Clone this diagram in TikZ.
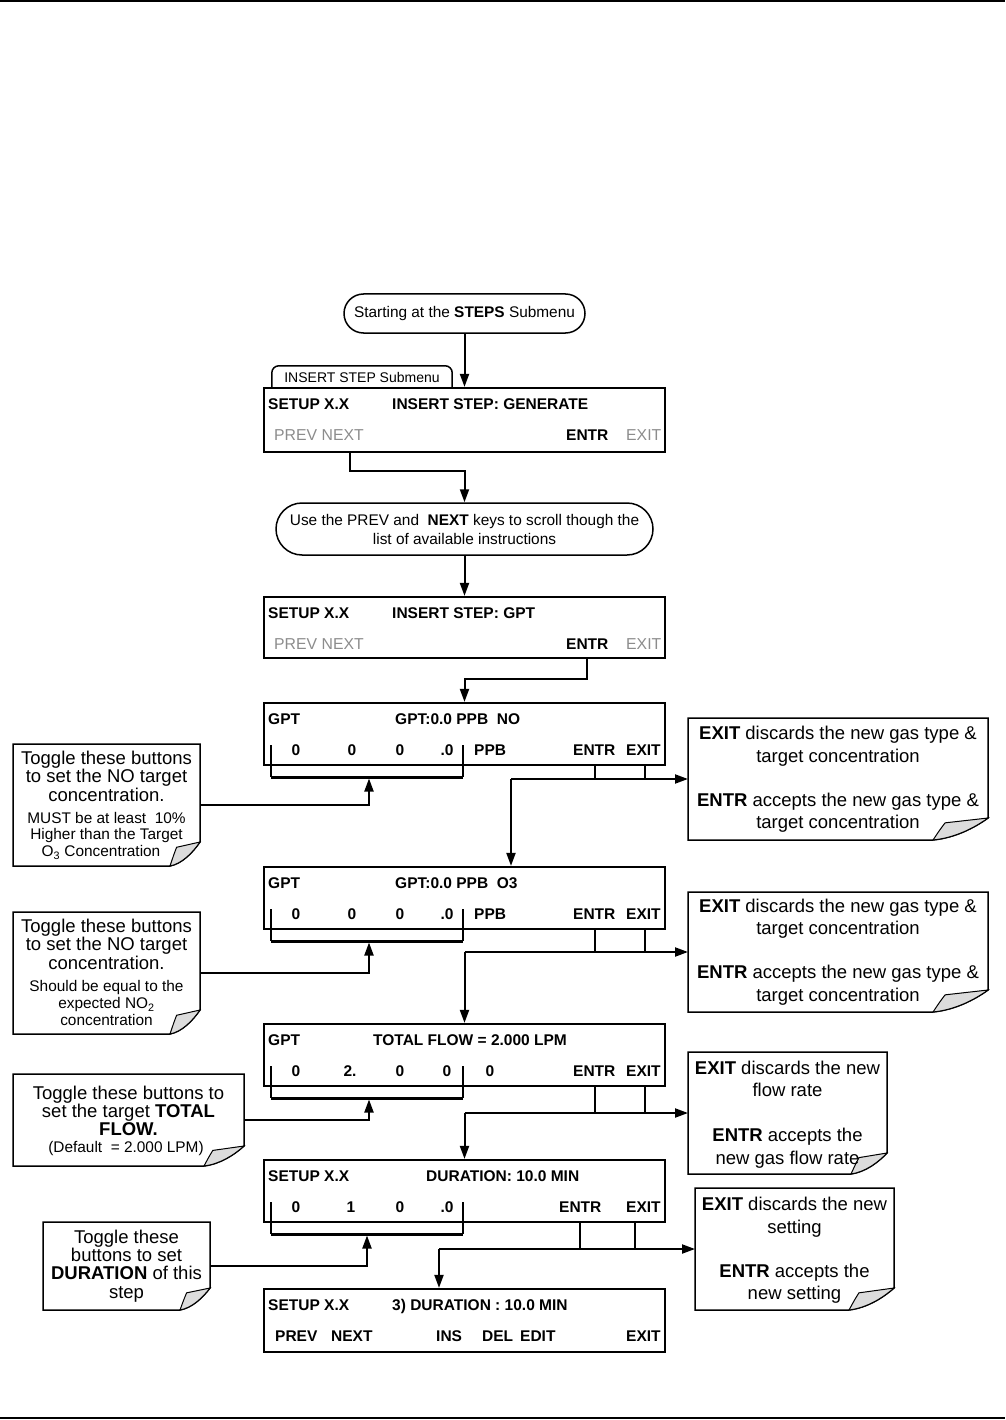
\documentclass[tikz,border=0pt]{standalone}
\usepackage{fontspec}
\setmainfont{Liberation Sans}
\usetikzlibrary{arrows.meta,shapes.misc}
\newcommand\fsz[1]{\fontsize{#1}{#1}\selectfont}
\definecolor{keygray}{HTML}{8C8C8C}
\definecolor{foldgray}{HTML}{DCDCDC}
% #1 node, #2 fold width, #3 fold height
\newcommand\noteear[3]{%
  \draw[line width=1.5pt,fill=white] (#1.north west) -- (#1.north east) -- ([yshift=#3pt]#1.south east)
    .. controls ([xshift=-0.25*#2pt,yshift=0.55*#3pt]#1.south east) and ([xshift=-0.6*#2pt,yshift=0.1*#3pt]#1.south east) .. ([xshift=-#2pt]#1.south east)
    -- (#1.south west) -- cycle;
  \filldraw[line width=1pt,fill=foldgray] ([yshift=#3pt]#1.south east)
    .. controls ([xshift=-0.25*#2pt,yshift=0.55*#3pt]#1.south east) and ([xshift=-0.6*#2pt,yshift=0.1*#3pt]#1.south east) .. ([xshift=-#2pt]#1.south east)
    .. controls ([xshift=-0.88*#2pt,yshift=0.45*#3pt]#1.south east) .. ([xshift=-0.78*#2pt,yshift=0.78*#3pt]#1.south east) -- cycle;}
\begin{document}
\begin{tikzpicture}[x=1pt,y=-1pt,
  disp/.style={draw,line width=2.2pt,inner sep=0,minimum width=401pt},
  dt/.style={anchor=base west,inner sep=0,font=\fsz{15.5}\bfseries},
  dg/.style={anchor=base west,inner sep=0,font=\fsz{15.8},text=keygray},
  dd/.style={anchor=base,inner sep=0,font=\fsz{15.5}\bfseries},
  conn/.style={line width=2pt},
  arr/.style={-{Triangle[length=13pt,width=9pt]}},
  tk/.style={line width=1.2pt},
  brv/.style={line width=1.8pt},
  brh/.style={line width=3pt},
  pill/.style={rounded rectangle,draw,line width=1.5pt,inner sep=0},
  notebox/.style={inner sep=0,outer sep=0},
  nl/.style={anchor=base,inner sep=0,font=\fsz{18.5}},
  ns/.style={anchor=base,inner sep=0,font=\fsz{15.4}},
]
\useasboundingbox (0,0) rectangle (1005,1420);
% page rules
\draw[line width=2pt] (0,1) coordinate (tl) -- (1005,1) coordinate (tr);
\draw[line width=2pt] (0,1418) coordinate (bl) -- (1005,1418) coordinate (brr);

% start
\node[pill,minimum width=241pt,minimum height=39pt,font=\fsz{15.4}] (start) at (464.5,313.5) {Starting at the \textbf{STEPS} Submenu};

% tab
\node[inner sep=0,minimum width=180pt,minimum height=22pt,font=\fsz{14}] (tab) at (362,377) {INSERT STEP Submenu};
\draw[line width=1.5pt,rounded corners=7pt] (tab.south west) -- (tab.north west) -- (tab.north east) -- (tab.south east);

% box 1
\node[disp,minimum height=64pt] (b1) at (464.5,420) {};
\node[dt] (b1a) at (268,409) {SETUP X.X};
\node[dt] (b1b) at (392,409) {INSERT STEP: GENERATE};
\node[dg] (b1c) at (274,440) {PREV NEXT};
\node[dt] (entr1) at (566,440) {ENTR};
\node[dg] (exit1) at (626,440) {EXIT};
\coordinate (nx1) at (350,440);

% scroll pill
\node[pill,minimum width=377pt,minimum height=52pt,align=center,font=\fontsize{15.4}{19}\selectfont] (scroll) at (464.5,529) {Use the PREV and \ \textbf{NEXT} keys to scroll though the\\list of available instructions};
\draw[conn,arr] (start.south) -- (start.south |- b1.north);
\draw[conn,arr] (nx1 |- b1.south) -- ++(0,18) -| (scroll.north);

% box 2
\node[disp,minimum height=61pt] (b2) at (464.5,627.5) {};
\node[dt] (b2a) at (268,618) {SETUP X.X};
\node[dt] (b2b) at (392,618) {INSERT STEP: GPT};
\node[dg] (b2c) at (274,649) {PREV NEXT};
\node[dt] (entr2) at (566,649) {ENTR};
\node[dg] (exit2) at (626,649) {EXIT};
\draw[conn,arr] (scroll.south) -- (scroll.south |- b2.north);

% box 3
\node[disp,minimum height=62pt] (b3) at (464.5,734) {};
\node[dt] (b3a) at (268,724) {GPT};
\node[dt] (b3b) at (395,724) {GPT:0.0 PPB \ NO};
\node[dd] (b3d1) at (296,755) {0};
\node[dd] (b3d2) at (352,755) {0};
\node[dd] (b3d3) at (400,755) {0};
\node[dd] (b3d4) at (447,755) {.0};
\node[dt] (b3u) at (474,755) {PPB};
\node[dt] (entr3) at (573,755) {ENTR};
\node[dt] (exit3) at (626,755) {EXIT};
\draw[conn,arr] (entr2.base |- b2.south) -- ++(0,20) -| (b3.north);

% box 4
\node[disp,minimum height=62pt] (b4) at (464.5,898) {};
\node[dt] (b4a) at (268,888) {GPT};
\node[dt] (b4b) at (395,888) {GPT:0.0 PPB \ O3};
\node[dd] (b4d1) at (296,919) {0};
\node[dd] (b4d2) at (352,919) {0};
\node[dd] (b4d3) at (400,919) {0};
\node[dd] (b4d4) at (447,919) {.0};
\node[dt] (b4u) at (474,919) {PPB};
\node[dt] (entr4) at (573,919) {ENTR};
\node[dt] (exit4) at (626,919) {EXIT};

% box 5
\node[disp,minimum height=62pt] (b5) at (464.5,1055) {};
\node[dt] (b5a) at (268,1045) {GPT};
\node[dt] (b5b) at (373,1045) {TOTAL FLOW = 2.000 LPM};
\node[dd] (b5d1) at (296,1076) {0};
\node[dd] (b5d2) at (350,1076) {2.};
\node[dd] (b5d3) at (400,1076) {0};
\node[dd] (b5d4) at (447,1076) {0};
\node[dd] (b5d5) at (490,1076) {0};
\node[dt] (entr5) at (573,1076) {ENTR};
\node[dt] (exit5) at (626,1076) {EXIT};

% box 6
\node[disp,minimum height=62pt] (b6) at (464.5,1191) {};
\node[dt] (b6a) at (268,1181) {SETUP X.X};
\node[dt] (b6b) at (426,1181) {DURATION: 10.0 MIN};
\node[dd] (b6d1) at (296,1212) {0};
\node[dd] (b6d2) at (351,1212) {1};
\node[dd] (b6d3) at (400,1212) {0};
\node[dd] (b6d4) at (447,1212) {.0};
\node[dt] (entr6) at (559,1212) {ENTR};
\node[dt] (exit6) at (626,1212) {EXIT};

% box 7
\node[disp,minimum height=63pt] (b7) at (464.5,1320.5) {};
\node[dt] (b7a) at (268,1310) {SETUP X.X};
\node[dt] (b7b) at (392,1310) {3) DURATION : 10.0 MIN};
\node[dt] (b7c) at (275,1341) {PREV};
\node[dt] (b7d) at (331,1341) {NEXT};
\node[dt] (b7e) at (436,1341) {INS};
\node[dt] (b7f) at (482,1341) {DEL};
\node[dt] (b7g) at (520,1341) {EDIT};
\node[dt] (b7h) at (626,1341) {EXIT};

% ---------- left notes ----------
\node[notebox,minimum width=187pt,minimum height=122pt] (n1) at (106.5,805) {};
\noteear{n1}{30}{24}
\node[nl] (n1a) at (106.5,764.5) {Toggle these buttons};
\node[nl] (n1b) at (106.5,782.5) {to set the NO target};
\node[nl] (n1c) at (106.5,801.5) {concentration.};
\node[ns] (n1d) at (106.5,823.5) {MUST be at least \ 10\%};
\node[ns] (n1e) at (106.5,839.5) {Higher than the Target};
\node[ns] (n1f) at (101,856.5) {O\textsubscript{3} Concentration};

\node[notebox,minimum width=187pt,minimum height=122pt] (n2) at (106.5,973) {};
\noteear{n2}{30}{24}
\node[nl] (n2a) at (106.5,932.5) {Toggle these buttons};
\node[nl] (n2b) at (106.5,950.5) {to set the NO target};
\node[nl] (n2c) at (106.5,969.5) {concentration.};
\node[ns] (n2d) at (106.5,991.5) {Should be equal to the};
\node[ns] (n2e) at (106.5,1008.5) {expected NO\textsubscript{2}};
\node[ns] (n2f) at (106.5,1025.5) {concentration};

\node[notebox,minimum width=231pt,minimum height=92pt] (n3) at (128.5,1120) {};
\noteear{n3}{40}{20}
\node[nl] (n3a) at (128.5,1099.5) {Toggle these buttons to};
\node[nl] (n3b) at (128.5,1117.5) {set the target \textbf{TOTAL}};
\node[nl] (n3c) at (128.5,1135.5) {\textbf{FLOW.}};
\node[ns] (n3d) at (126,1152.5) {(Default \ = 2.000 LPM)};

\node[notebox,minimum width=167pt,minimum height=88pt] (n4) at (126.5,1266) {};
\noteear{n4}{30}{22}
\node[nl] (n4a) at (126.5,1243.5) {Toggle these};
\node[nl] (n4b) at (126.5,1261.5) {buttons to set};
\node[nl] (n4c) at (126.5,1279.5) {\textbf{DURATION} of this};
\node[nl] (n4d) at (126.5,1298.5) {step};

% ---------- right notes ----------
\node[notebox,minimum width=300pt,minimum height=122pt] (r1) at (838,779) {};
\noteear{r1}{55}{22}
\node[nl] (r1a) at (838,739.5) {\textbf{EXIT} discards the new gas type \&};
\node[nl] (r1b) at (838,762.5) {target concentration};
\node[nl] (r1c) at (838,806.5) {\textbf{ENTR} accepts the new gas type \&};
\node[nl] (r1d) at (838,828.5) {target concentration};

\node[notebox,minimum width=300pt,minimum height=120pt] (r2) at (838,952) {};
\noteear{r2}{55}{22}
\node[nl] (r2a) at (838,912.5) {\textbf{EXIT} discards the new gas type \&};
\node[nl] (r2b) at (838,934.5) {target concentration};
\node[nl] (r2c) at (838,978.5) {\textbf{ENTR} accepts the new gas type \&};
\node[nl] (r2d) at (838,1001.5) {target concentration};

\node[notebox,minimum width=199pt,minimum height=122pt] (r3) at (787.5,1113) {};
\noteear{r3}{36}{21}
\node[nl] (r3a) at (787.5,1074.5) {\textbf{EXIT} discards the new};
\node[nl] (r3b) at (787.5,1096.5) {flow rate};
\node[nl] (r3c) at (787.5,1141.5) {\textbf{ENTR} accepts the};
\node[nl] (r3d) at (787.5,1164.5) {new gas flow rate};

\node[notebox,minimum width=199pt,minimum height=122pt] (r4) at (794.5,1249) {};
\noteear{r4}{45}{22}
\node[nl] (r4a) at (794.5,1210.5) {\textbf{EXIT} discards the new};
\node[nl] (r4b) at (794.5,1233.5) {setting};
\node[nl] (r4c) at (794.5,1277.5) {\textbf{ENTR} accepts the};
\node[nl] (r4d) at (794.5,1299.5) {new setting};

% ---------- brackets ----------
\draw[brv] (271,745) -- (271,777); \draw[brv] (463,745) -- (463,777);
\draw[brh] (271,777) -- (463,777);
\draw[brv] (271,909) -- (271,941); \draw[brv] (463,909) -- (463,941);
\draw[brh] (271,941) -- (463,941);
\draw[brv] (271,1066) -- (271,1098); \draw[brv] (463,1066) -- (463,1098);
\draw[brh] (271,1098) -- (463,1098);
\draw[brv] (271,1202) -- (271,1234); \draw[brv] (463,1202) -- (463,1234);
\draw[brh] (271,1234) -- (463,1234);
\coordinate (k3) at (369,778.5);
\coordinate (k4) at (369,942.5);
\coordinate (k5) at (369,1099.5);
\coordinate (k6) at (367,1235.5);
\draw[conn,arr] (n1.east) -| (k3);
\draw[conn,arr] (n2.east) -| (k4);
\draw[conn,arr] (n3.east) -| (k5);
\draw[conn,arr] (n4.east) -| (k6);

% ---------- ENTR/EXIT connectors ----------
\coordinate (e3) at (595,779); \coordinate (x3) at (645,779); \coordinate (j3) at (511,779);
\draw[tk] (e3 |- b3.south) -- (e3); \draw[tk] (x3 |- b3.south) -- (x3);
\draw[conn,arr] (j3) -- (r1.west);
\draw[conn,arr] (j3) -- (j3 |- b4.north);

\coordinate (e4) at (595,952); \coordinate (x4) at (645,952); \coordinate (j4) at (464.5,952);
\draw[tk] (e4 |- b4.south) -- (e4); \draw[tk] (x4 |- b4.south) -- (x4);
\draw[conn,arr] (j4) -- (r2.west);
\draw[conn,arr] (j4) -- (b5.north);

\coordinate (e5) at (595,1113); \coordinate (x5) at (645,1113); \coordinate (j5) at (464.5,1113);
\draw[tk] (e5 |- b5.south) -- (e5); \draw[tk] (x5 |- b5.south) -- (x5);
\draw[conn,arr] (j5) -- (r3.west);
\draw[conn,arr] (j5) -- (b6.north);

\coordinate (e6) at (580,1249); \coordinate (x6) at (635,1249); \coordinate (j6) at (439,1249);
\draw[tk] (e6 |- b6.south) -- (e6); \draw[tk] (x6 |- b6.south) -- (x6);
\draw[conn,arr] (j6) -- (r4.west);
\draw[conn,arr] (j6) -- (j6 |- b7.north);
\end{tikzpicture}
\end{document}
